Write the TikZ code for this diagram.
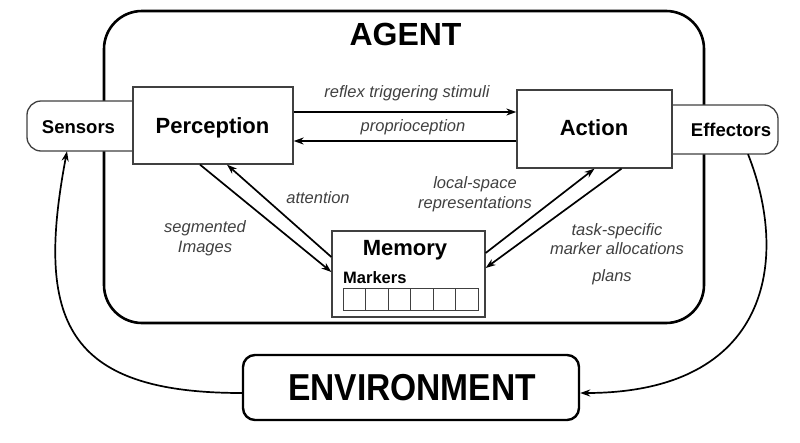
\documentclass[tikz,border=0pt]{standalone}
\usepackage{fontspec}
\setmainfont{Liberation Sans}
\usetikzlibrary{arrows.meta}

\begin{document}
\begin{tikzpicture}[x=1pt,y=-1pt,
  box/.style={draw=black!75,line width=1.3pt,fill=white,inner sep=0pt},
  sidebox/.style={draw=black!75,line width=1.3pt,fill=white,rounded corners=14pt},
  title/.style={font=\fontsize{22}{26}\selectfont\bfseries,anchor=base,inner sep=0pt},
  small/.style={font=\fontsize{18.5}{22}\selectfont\bfseries,anchor=base,inner sep=0pt},
  lbl/.style={text=black!75,font=\fontsize{16.5}{19.5}\selectfont\itshape,align=center},
  arr/.style={line width=1.7pt,-{Stealth[length=10pt,width=7pt]}}]
\useasboundingbox (0,0) rectangle (800,442);
%%Agent
\draw[line width=2.6pt,rounded corners=38pt] (104,11) rectangle (704,323);
\node[font=\fontsize{32}{36}\selectfont\bfseries,anchor=base,inner sep=0pt] (agent) at (405.5,45) {AGENT};
%%Sensors and effectors
\draw[sidebox] (133,101) -- (27,101) -- (27,151) -- (133,151);
\draw[sidebox] (672,105) -- (778,105) -- (778,154) -- (672,154);
\node[minimum width=106pt,minimum height=50pt] (sensors) at (80,126) {};
\node[minimum width=106pt,minimum height=49pt] (effectors) at (725,129.5) {};
\node[small] (senstext) at (78.5,133) {Sensors};
\node[small] (efftext) at (731,136.5) {Effectors};
%%Boxes
\node[box,minimum width=160pt,minimum height=77pt] (perc) at (213,125.5) {};
\node[box,minimum width=155pt,minimum height=78pt] (action) at (594.5,129) {};
\node[box,minimum width=153pt,minimum height=86pt] (mem) at (408.5,274) {};
\node[title] (perctext) at (212.5,133) {Perception};
\node[title] (acttext) at (594,135) {Action};
\node[title] (memtext) at (405,255) {Memory};
\node[font=\fontsize{16.5}{20}\selectfont\bfseries,anchor=base west,inner sep=0pt] (markers) at (343,283.3) {Markers};
\foreach \i in {0,...,5}
  \draw[line width=1pt,draw=black!75] (343+22.5*\i,288) rectangle +(22.5,22);
%%Environment
\node[draw,line width=2.4pt,rounded corners=12pt,minimum width=336pt,minimum height=65pt] (env) at (411,387.5) {};
\node[font=\fontsize{37.5}{40}\selectfont\bfseries,anchor=base,inner sep=0pt] (envtext) at (412,400) {\scalebox{0.895}[1]{ENVIRONMENT}};
%%Arrows
\draw[arr] ([yshift=13.5pt]perc.east) -- ([yshift=17pt]action.west);
\draw[arr] ([yshift=-12pt]action.west) -- ([yshift=-15.5pt]perc.east);
\draw[arr] ([xshift=-13pt]perc.south) -- ([yshift=2pt]mem.west);
\draw[arr] ([yshift=17pt]mem.west) -- ([xshift=14pt]perc.south);
\draw[arr] ([yshift=21pt]mem.east) -- (action.south);
\draw[arr] ([xshift=27pt]action.south) -- ([yshift=6pt]mem.east);
\draw[arr] ([yshift=-5.5pt]env.west) .. controls (65,393) and (35,320) .. ([xshift=-13pt]sensors.south);
\draw[arr] ([xshift=23pt]effectors.south) .. controls (790,260) and (770,393) .. ([yshift=-5.5pt]env.east);
%%Label
\node[lbl] (reflex) at (407,93) {reflex triggering stimuli};
\node[lbl] (proprio) at (413,127) {proprioception};
\node[lbl] (attn) at (318,198) {attention};
\node[lbl] (segm) at (205,238) {segmented\\Images};
\node[lbl] (local) at (475,194) {local-space\\representations};
\node[lbl] (task) at (617,239) {task-specific\\marker allocations};
\node[lbl] (plans) at (612,277) {plans};
\end{tikzpicture}
\end{document}
